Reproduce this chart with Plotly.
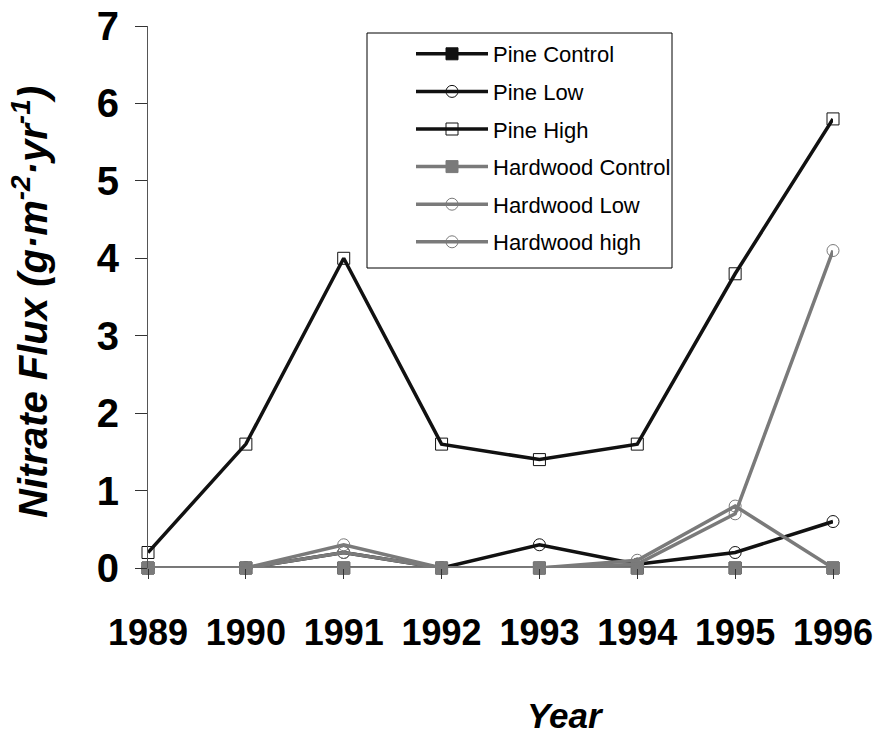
import plotly.graph_objects as go

years = [1989, 1990, 1991, 1992, 1993, 1994, 1995, 1996]
year_labels = ["1989", "1990", "1991", "1992", "1993", "1994", "1995", "1996"]

pine_control = [0, 0, 0, 0, 0, 0, 0, 0]
pine_low = [0, 0, 0.2, 0, 0.3, 0.05, 0.2, 0.6]
pine_high = [0.2, 1.6, 4.0, 1.6, 1.4, 1.6, 3.8, 5.8]
hardwood_control = [0, 0, 0, 0, 0, 0, 0, 0]
hardwood_low = [0, 0, 0.3, 0, 0, 0.1, 0.8, 0]
hardwood_high = [0, 0, 0.2, 0, 0, 0.05, 0.7, 4.1]

FONT = "Arial, Liberation Sans, sans-serif"
DARK = "#111111"
GREY = "#7a7a7a"

series = [
    ("Pine Control", pine_control, DARK, "square"),
    ("Pine Low", pine_low, DARK, "circle-open"),
    ("Pine High", pine_high, DARK, "square-open"),
    ("Hardwood Control", hardwood_control, GREY, "square"),
    ("Hardwood Low", hardwood_low, GREY, "circle-open"),
    ("Hardwood high", hardwood_high, GREY, "circle-open"),
]

fig = go.Figure()
for name, vals, col, sym in series:
    fig.add_trace(go.Scatter(
        x=years, y=vals, name=name, mode="lines+markers",
        line=dict(color=col, width=3.5),
        marker=dict(symbol=sym, size=12, color=col, line=dict(color=col, width=1)),
        cliponaxis=False, legendgroup=name,
    ))

# plot area in page pixels: x 148..833, y 26..568
def px(x):
    return (x - 148) / 685

def py(y):
    return (568 - y) / 542

# legend frame (legend itself has no border so the sample lines can sit inside it)
fig.add_shape(type="rect", xref="paper", yref="paper",
              x0=px(367), x1=px(672), y0=py(268), y1=py(33),
              line=dict(color="black", width=1))

# axis titles as annotations so they sit where the original puts them
fig.add_annotation(text="<b><i>Year</i></b>", xref="paper", yref="paper",
                   x=px(565), y=py(715), xanchor="center", yanchor="middle",
                   showarrow=False, font=dict(size=35, family=FONT))
fig.add_annotation(text="<b><i>Nitrate Flux (g·m<sup>-2</sup>·yr<sup>-1</sup>)</i></b>",
                   xref="paper", yref="paper", x=px(30), y=py(302),
                   xanchor="center", yanchor="middle", textangle=-90,
                   showarrow=False, font=dict(size=40, family=FONT))

fig.update_layout(
    width=875, height=737,
    paper_bgcolor="white", plot_bgcolor="white",
    margin=dict(l=148, r=42, t=26, b=169),
    font=dict(family=FONT, color="black"),
    showlegend=True,
    legend=dict(
        x=px(411), y=py(33), xanchor="left", yanchor="top",
        borderwidth=0, bgcolor="rgba(0,0,0,0)",
        font=dict(size=22, family=FONT),
        tracegroupgap=6, itemwidth=72,
    ),
    xaxis=dict(
        range=[1989, 1996], tickvals=years, ticktext=year_labels,
        showgrid=False, zeroline=False, showline=False, automargin=False,
        ticks="outside", ticklen=10, tickcolor="#333",
        tickangle=0, ticklabelstandoff=23, ticklabeloverflow="allow",
        tickfont=dict(size=36, family=FONT, weight="bold"),
    ),
    yaxis=dict(
        range=[0, 7], tickvals=[0, 1, 2, 3, 4, 5, 6, 7],
        showgrid=False, zeroline=False, showline=True, linecolor="#555", linewidth=1,
        automargin=False,
        ticks="outside", ticklen=12, tickcolor="#333",
        ticklabelstandoff=8, ticklabeloverflow="allow",
        tickfont=dict(size=40, family=FONT, weight="bold"),
    ),
)

# no page margin / scrollbars so the 875x737 figure fills the window exactly
fig.write_html("out.html", config={"displayModeBar": False},
               post_script="document.body.style.margin='0';document.body.style.overflow='hidden';")
